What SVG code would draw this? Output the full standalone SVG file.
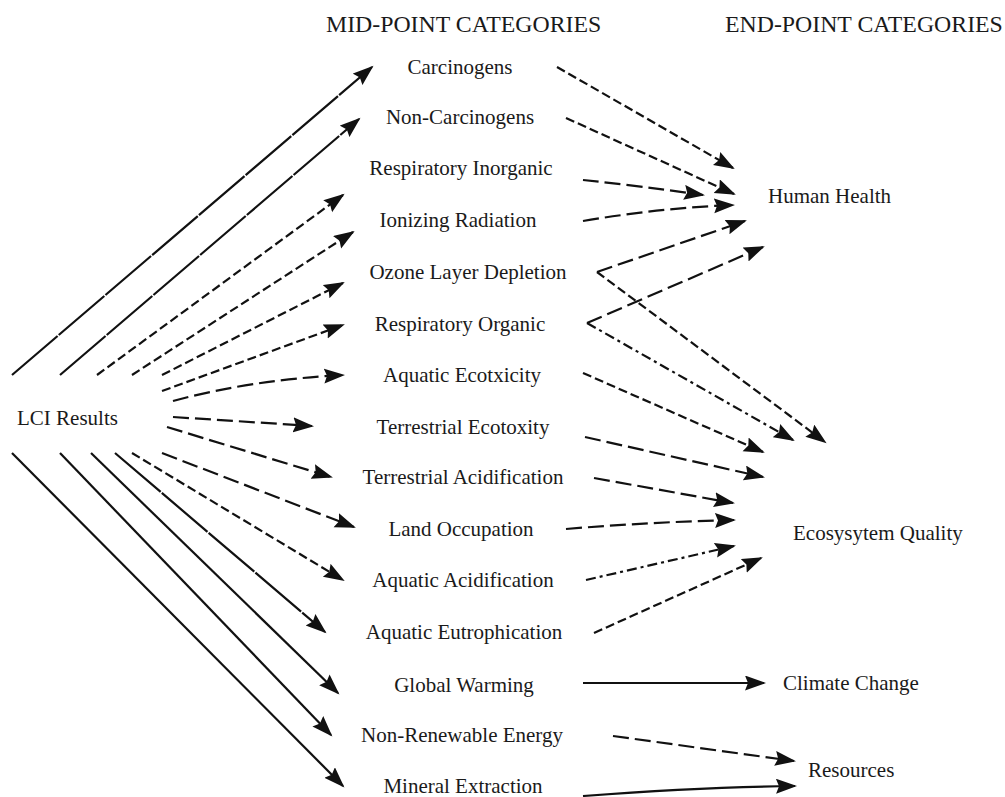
<svg xmlns="http://www.w3.org/2000/svg" width="1005" height="797" viewBox="0 0 1005 797">
<defs>
<style>
text{font-family:"Liberation Serif","Times New Roman",serif;fill:#1a1a1a}
.hdr{font-size:23.8px}
.lbl{font-size:21px;text-anchor:middle}
.end{font-size:21px}
.c{fill:none;stroke:#111;stroke-width:2.2;marker-end:url(#ah)}
.fine{stroke-dasharray:60 1.5}
.dash{stroke-dasharray:9 4}
.ldash{stroke-dasharray:16 6}
.dd{stroke-dasharray:10 4 3 4}
</style>
<marker id="ah" markerUnits="userSpaceOnUse" markerWidth="24" markerHeight="16" refX="19" refY="7.5" orient="auto">
<path d="M0,0 L21,7.5 L0,15 L3,7.5 z" fill="#111"/>
</marker>
</defs>
<rect width="1005" height="797" fill="#fff"/>
<g id="headers">
<text class="hdr" x="326" y="32">MID-POINT CATEGORIES</text>
<text class="hdr" x="725" y="32">END-POINT CATEGORIES</text>
</g>
<g id="lci"><text class="end" x="17" y="425">LCI Results</text></g>
<g id="mid-carcinogens"><text class="lbl" x="460" y="74">Carcinogens</text></g>
<g id="mid-noncarcinogens"><text class="lbl" x="460" y="124">Non-Carcinogens</text></g>
<g id="mid-respinorganic"><text class="lbl" x="461" y="175">Respiratory Inorganic</text></g>
<g id="mid-ionizing"><text class="lbl" x="458" y="227">Ionizing Radiation</text></g>
<g id="mid-ozone"><text class="lbl" x="468" y="279">Ozone Layer Depletion</text></g>
<g id="mid-resporganic"><text class="lbl" x="460" y="331">Respiratory Organic</text></g>
<g id="mid-aqecotox"><text class="lbl" x="462" y="382">Aquatic Ecotxicity</text></g>
<g id="mid-terrecotox"><text class="lbl" x="463" y="434">Terrestrial Ecotoxity</text></g>
<g id="mid-terracid"><text class="lbl" x="463" y="484">Terrestrial Acidification</text></g>
<g id="mid-land"><text class="lbl" x="461" y="536">Land Occupation</text></g>
<g id="mid-aqacid"><text class="lbl" x="463" y="587">Aquatic Acidification</text></g>
<g id="mid-aqeutro"><text class="lbl" x="464" y="639">Aquatic Eutrophication</text></g>
<g id="mid-gw"><text class="lbl" x="464" y="692">Global Warming</text></g>
<g id="mid-nre"><text class="lbl" x="462" y="742">Non-Renewable Energy</text></g>
<g id="mid-mineral"><text class="lbl" x="463" y="793">Mineral Extraction</text></g>
<g id="end-hh"><text class="end" x="768" y="203">Human Health</text></g>
<g id="end-eq"><text class="end" x="793" y="540">Ecosysytem Quality</text></g>
<g id="end-cc"><text class="end" x="783" y="690">Climate Change</text></g>
<g id="end-res"><text class="end" x="808" y="777">Resources</text></g>
<g id="connectors">
<path class="c fine" d="M12,375 L372,67"/>
<path class="c fine" d="M60,375 L359,119"/>
<path class="c dash" d="M97,375 L343,195"/>
<path class="c dash" d="M132,375 L353,232"/>
<path class="c dash" d="M162,375 L343,283"/>
<path class="c dash" d="M162,391 L343,325"/>
<path class="c ldash" d="M173,401 Q250,380 343,375"/>
<path class="c ldash" d="M173,417 L312,426"/>
<path class="c ldash" d="M167,427 L331,477"/>
<path class="c ldash" d="M162,453 L354,527"/>
<path class="c dash" d="M132,453 L343,580"/>
<path class="c fine" d="M115,453 L325,632"/>
<path class="c" d="M91,453 L338,693"/>
<path class="c" d="M60,453 L331,735"/>
<path class="c" d="M12,453 L343,786"/>
<path class="c dash" d="M557,67 L733,168"/>
<path class="c dash" d="M566,118 L734,194"/>
<path class="c ldash" d="M583,180 Q640,186 703,195"/>
<path class="c ldash" d="M583,221 Q660,208 733,205"/>
<path class="c ldash" d="M597,272 L745,221"/>
<path class="c dash" d="M597,272 L825,442"/>
<path class="c ldash" d="M587,323 L763,247"/>
<path class="c dd" d="M587,323 L793,440"/>
<path class="c dash" d="M583,373 L763,452"/>
<path class="c ldash" d="M585,437 L763,477"/>
<path class="c ldash" d="M594,478 L733,503"/>
<path class="c ldash" d="M566,529 Q650,522 734,520"/>
<path class="c dd" d="M586,580 L734,546"/>
<path class="c dash" d="M594,633 L761,558"/>
<path class="c" d="M583,683 L764,683"/>
<path class="c ldash" d="M613,736 L794,761"/>
<path class="c" d="M583,796 Q700,787 795,786"/>
</g>
</svg>
